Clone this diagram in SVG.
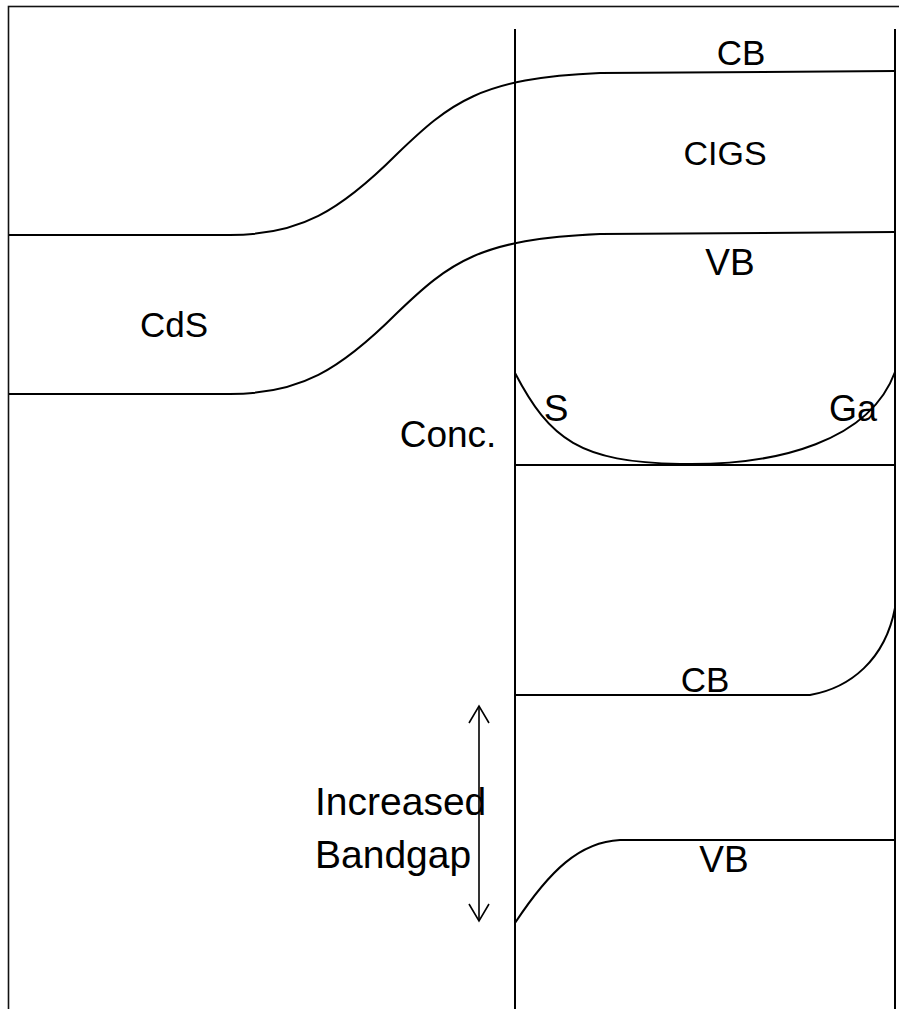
<svg xmlns="http://www.w3.org/2000/svg" width="899" height="1009" viewBox="0 0 899 1009">
<style>
.ln{fill:none;stroke:#000;stroke-width:2}
.t{font-family:"Liberation Sans",Arial,sans-serif;fill:#000}
</style>
<defs>
<marker id="open" viewBox="-20 -12 22 24" markerWidth="22" markerHeight="24" refX="0" refY="0" orient="auto-start-reverse" markerUnits="userSpaceOnUse" overflow="visible">
<path d="M -17 -10 L 0 0 L -17 10" fill="none" stroke="#000" stroke-width="1.6"/>
</marker>
</defs>
<rect x="0" y="0" width="899" height="1009" fill="#fff"/>
<rect id="frame" x="8.5" y="6.5" width="905" height="1020" fill="none" stroke="#111" stroke-width="1.6"/>

<g id="cigs-boundaries">
<line class="ln" x1="515" y1="29" x2="515" y2="1009"/>
<line class="ln" x1="895" y1="29" x2="895" y2="1009"/>
</g>

<g id="band-top">
<path class="ln" d="M 9 235 L 230 235 C 300 235 340 211 397 154 C 450 103 480 78 600 73 L 895 71"/>
<path class="ln" d="M 9 394 L 230 394 C 300 394 340 370 397 313 C 450 262 480 239 600 234 L 895 232"/>
<text class="t" x="741" y="65" font-size="35" text-anchor="middle">CB</text>
<text class="t" x="725" y="165" font-size="34" text-anchor="middle">CIGS</text>
<text class="t" x="730" y="275" font-size="37" text-anchor="middle">VB</text>
<text class="t" x="174" y="337" font-size="35" text-anchor="middle">CdS</text>
</g>

<g id="concentration">
<line class="ln" x1="515" y1="465" x2="895" y2="465"/>
<path class="ln" d="M 515 373 C 550 440 580 462 680 464"/>
<path class="ln" d="M 680 464 C 780 466 870 440 895 372" stroke="#333"/>
<text class="t" x="448" y="447" font-size="37" text-anchor="middle">Conc.</text>
<text class="t" x="556" y="421" font-size="37" text-anchor="middle">S</text>
<text class="t" x="853" y="421" font-size="36" text-anchor="middle">Ga</text>
</g>

<g id="band-bottom">
<path class="ln" d="M 515 695 L 810 695 C 850 688 885 660 895 608"/>
<path class="ln" d="M 515 923 C 550 870 580 842 620 840 L 895 840"/>
<text class="t" x="705" y="692" font-size="35" text-anchor="middle">CB</text>
<text class="t" x="724" y="872" font-size="37" text-anchor="middle">VB</text>
<text class="t" x="315" y="815" font-size="39">Increased</text>
<text class="t" x="315" y="868" font-size="39">Bandgap</text>
</g>

<g id="connectors">
<line x1="479" y1="706" x2="479" y2="921" stroke="#000" stroke-width="1.6" marker-start="url(#open)" marker-end="url(#open)"/>
</g>
</svg>
